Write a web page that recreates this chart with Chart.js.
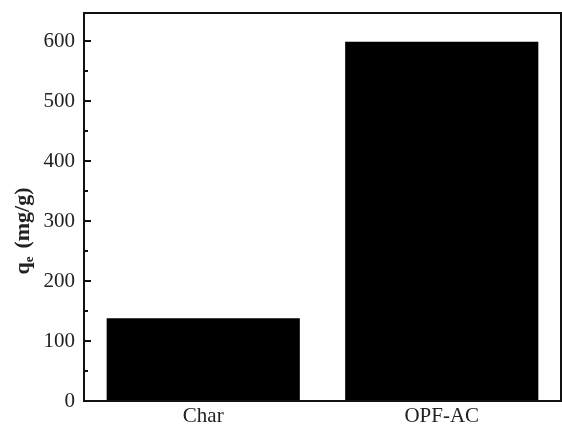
<!DOCTYPE html>
<html>
<head>
<meta charset="utf-8">
<script src="https://cdn.jsdelivr.net/npm/chart.js@4"></script>
<style>
  html, body { margin: 0; padding: 0; background: #fff; }
  #wrap { width: 562px; height: 427px; }
</style>
</head>
<body>
<div id="wrap"><canvas id="chart"></canvas></div>
<script>
// Data
const categories = ['Char', 'OPF-AC'];
const qeValues = [138, 599];
const yTicks = [0, 100, 200, 300, 400, 500, 600];
const yTitle = ['q', 'e', '(mg/g)'];

const font = 'Liberation Serif, Times New Roman, serif';

// box frame + inward tick marks + y title with subscript
const framePlugin = {
  id: 'frame',
  afterDraw(chart) {
    const { ctx, chartArea: a, scales } = chart;
    ctx.save();
    ctx.strokeStyle = '#111';
    ctx.lineWidth = 2;
    ctx.strokeRect(a.left, a.top, a.right - a.left, a.bottom - a.top);
    const y = scales.y;
    for (let v = 0; v <= y.max; v += 50) {
      const py = Math.round(y.getPixelForValue(v));
      const len = v % 100 === 0 ? 7 : 4;
      ctx.beginPath();
      ctx.moveTo(a.left, py);
      ctx.lineTo(a.left + len, py);
      ctx.stroke();
    }

    // axis title, read bottom to top: q, e, gap, (mg/g)
    const big = 'bold 22px ' + font, small = 'bold 13px ' + font;
    ctx.font = big;
    const w0 = ctx.measureText(yTitle[0]).width;
    const w2 = ctx.measureText(yTitle[2]).width;
    ctx.font = small;
    const w1 = ctx.measureText(yTitle[1]).width;
    const gap = 8;
    const total = w0 + w1 + gap + w2;
    ctx.translate(29, 231);
    ctx.rotate(-Math.PI / 2);
    ctx.fillStyle = '#222';
    ctx.textBaseline = 'alphabetic';
    let x = -total / 2;
    ctx.font = big;
    ctx.fillText(yTitle[0], x, 0);
    x += w0;
    ctx.font = small;
    ctx.fillText(yTitle[1], x, 4);
    x += w1 + gap;
    ctx.font = big;
    ctx.fillText(yTitle[2], x, 0);
    ctx.restore();
  }
};

new Chart(document.getElementById('chart'), {
  type: 'bar',
  data: {
    labels: categories,
    datasets: [{
      data: qeValues,
      backgroundColor: '#000',
      borderWidth: 0,
      barPercentage: 0.9,
      categoryPercentage: 0.9
    }]
  },
  options: {
    responsive: true,
    maintainAspectRatio: false,
    animation: false,
    layout: { padding: { top: 13, right: 1, left: 0, bottom: 0 } },
    plugins: { legend: { display: false }, tooltip: { enabled: false } },
    scales: {
      x: {
        grid: { display: false, drawTicks: false },
        border: { display: false },
        ticks: {
          color: '#222',
          padding: 3,
          font: { family: font, size: 21 }
        },
        afterFit: s => { s.height = 26; s.paddingLeft = 0; s.paddingRight = 0; }
      },
      y: {
        min: 0,
        max: 647,
        grid: { display: false, drawTicks: false },
        border: { display: false },
        afterBuildTicks: s => { s.ticks = yTicks.map(v => ({ value: v })); },
        ticks: {
          color: '#222',
          padding: 9,
          font: { family: font, size: 21 }
        },
        afterFit: s => { s.width = 84; s.paddingTop = 0; s.paddingBottom = 0; }
      }
    }
  },
  plugins: [framePlugin]
});
</script>
</body>
</html>
